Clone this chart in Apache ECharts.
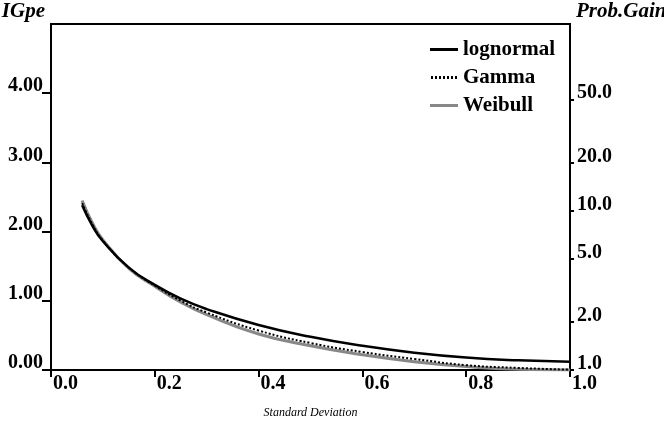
<!DOCTYPE html>
<html>
<head>
<meta charset="utf-8">
<script src="https://cdn.jsdelivr.net/npm/echarts@6/dist/echarts.min.js"></script>
<style>
  html, body { margin: 0; padding: 0; background: #fff; }
  #main { width: 664px; height: 426px; }
</style>
</head>
<body>
<div id="main"></div>
<script>
'use strict';
/* IGpe vs standard deviation for three distributions */

var stdDev    = [0.06, 0.08, 0.10, 0.15, 0.20, 0.25, 0.30, 0.40, 0.50, 0.60, 0.70, 0.80, 0.90, 1.00];
var lognormal = [2.38, 2.08, 1.86, 1.48, 1.23, 1.03, 0.88, 0.65, 0.48, 0.35, 0.25, 0.18, 0.14, 0.12];
var gamma     = [2.41, 2.10, 1.87, 1.48, 1.22, 1.00, 0.83, 0.57, 0.39, 0.26, 0.16, 0.07, 0.03, 0.005];
var weibull   = [2.45, 2.12, 1.88, 1.47, 1.21, 0.98, 0.80, 0.52, 0.35, 0.22, 0.12, 0.05, 0.01, 0.00];
var probGainTicks = [1, 2, 5, 10, 20, 50];

var FONT = 'Liberation Serif';

// legend icons: solid bar and a row of dots
var SOLID_ICON = 'path://M0,0h28v3h-28z';
var DOTTED_ICON = 'path://M0,0h2v3h-2z M4,0h2v3h-2z M8,0h2v3h-2z M12,0h2v3h-2z M16,0h2v3h-2z M20,0h2v3h-2z M24,0h2v3h-2z';

function pairs(ys) {
  var out = [];
  for (var i = 0; i < stdDev.length; i++) {
    out.push([stdDev[i], ys[i]]);
  }
  return out;
}

var probGainPos = probGainTicks.map(function(v) { return Math.log(v); });

var chart = echarts.init(document.getElementById('main'), null, {renderer: 'canvas'});

var option = {
  animation: false,
  backgroundColor: '#fff',
  textStyle: { fontFamily: FONT },
  grid: {
    left: 51, right: 94, top: 24, bottom: 56,
    outerBoundsMode: 'none',
    containLabel: false,
    show: true, borderColor: '#000', borderWidth: 2
  },
  legend: {
    orient: 'vertical',
    left: 425, top: 34,
    itemWidth: 28, itemHeight: 3, itemGap: 7,
    textStyle: { fontFamily: FONT, fontWeight: 'bold', fontSize: 21, color: '#000', padding: [0, 0, 0, 0] },
    data: [
      { name: 'lognormal', icon: SOLID_ICON },
      { name: 'Gamma', icon: DOTTED_ICON },
      { name: 'Weibull', icon: SOLID_ICON }
    ]
  },
  xAxis: {
    type: 'value',
    min: 0, max: 1, interval: 0.2,
    name: 'Standard Deviation',
    nameLocation: 'middle',
    nameGap: 37,
    nameTextStyle: { fontFamily: FONT, fontStyle: 'italic', fontSize: 12, color: '#000' },
    axisLine: { show: true, lineStyle: { color: '#000', width: 2 } },
    axisTick: { show: true, inside: false, length: 7, lineStyle: { color: '#000', width: 2 } },
    axisLabel: {
      margin: 4, align: 'left', padding: [0, 0, 0, 2],
      fontFamily: FONT, fontWeight: 'bold', fontSize: 20, color: '#000',
      formatter: function(v) { return v.toFixed(1); }
    },
    splitLine: { show: false }
  },
  yAxis: [{
    type: 'value',
    min: 0, max: 5, interval: 1,
    name: 'IGpe',
    nameLocation: 'end',
    nameGap: 12,
    nameTextStyle: { fontFamily: FONT, fontStyle: 'italic', fontWeight: 'bold', fontSize: 21, color: '#000',
      align: 'right', verticalAlign: 'middle', padding: [0, 6, 0, 0] },
    axisLine: { show: true, lineStyle: { color: '#000', width: 2 } },
    axisTick: { show: true, inside: false, length: 9, lineStyle: { color: '#000', width: 2 } },
    axisLabel: {
      margin: 8, verticalAlign: 'bottom', lineHeight: 14, showMaxLabel: false,
      fontFamily: FONT, fontWeight: 'bold', fontSize: 20, color: '#000',
      formatter: function(v) { return v.toFixed(2); }
    },
    splitLine: { show: false }
  }, {
    type: 'value',
    position: 'right',
    min: 0, max: 5,
    name: 'Prob.Gain',
    nameLocation: 'end',
    nameGap: 12,
    nameTextStyle: { fontFamily: FONT, fontStyle: 'italic', fontWeight: 'bold', fontSize: 21, color: '#000',
      align: 'left', verticalAlign: 'middle', padding: [0, 0, 0, 6] },
    axisLine: { show: true, lineStyle: { color: '#000', width: 2 } },
    axisTick: { show: true, inside: false, length: 4, customValues: probGainPos, lineStyle: { color: '#000', width: 2 } },
    axisLabel: {
      margin: 7, verticalAlign: 'bottom', lineHeight: 12, customValues: probGainPos,
      fontFamily: FONT, fontWeight: 'bold', fontSize: 20, color: '#000',
      formatter: function(v) { return Math.exp(v).toFixed(1); }
    },
    splitLine: { show: false }
  }],
  series: [{
    name: 'Weibull',
    type: 'line',
    smooth: true,
    showSymbol: false,
    symbol: 'none',
    z: 2,
    color: '#888',
    lineStyle: { color: '#888', width: 3 },
    data: pairs(weibull)
  }, {
    name: 'Gamma',
    type: 'line',
    smooth: true,
    showSymbol: false,
    symbol: 'none',
    z: 3,
    color: '#000',
    lineStyle: { color: '#000', width: 2, type: [2, 2] },
    data: pairs(gamma)
  }, {
    name: 'lognormal',
    type: 'line',
    smooth: true,
    showSymbol: false,
    symbol: 'none',
    z: 4,
    color: '#000',
    lineStyle: { color: '#000', width: 2.5 },
    data: pairs(lognormal)
  }]
};

chart.setOption(option);
</script>
</body>
</html>
